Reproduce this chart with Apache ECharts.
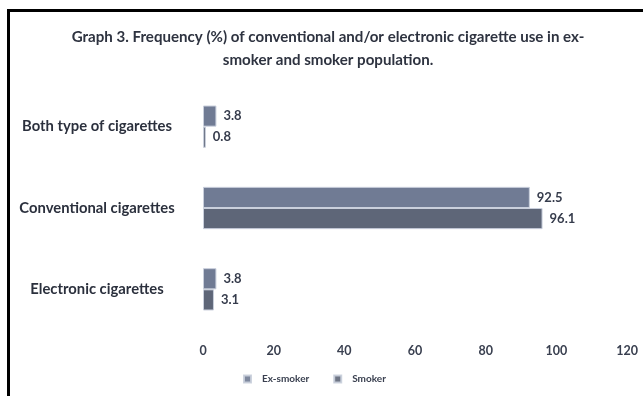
<!DOCTYPE html>
<html>
<head>
<meta charset="utf-8">
<script src="https://cdn.jsdelivr.net/npm/echarts@6/dist/echarts.min.js"></script>
<style>
  html, body { margin: 0; padding: 0; background: #fff; }
  #wrap { position: relative; width: 643px; height: 396px; overflow: hidden; }
  #chart { position: absolute; left: 0; top: 0; width: 643px; height: 396px; }
  #frame { position: absolute; left: 7px; top: 9px; width: 700px; height: 450px;
           border-top: 3px solid #000; border-left: 3px solid #000; pointer-events: none; }
</style>
</head>
<body>
<div id="wrap">
  <div id="chart"></div>
  <div id="frame"></div>
</div>
<script>
// top-to-bottom order (y axis is inverted)
const categories = ['Both type of cigarettes', 'Conventional cigarettes', 'Electronic cigarettes'];
const exSmoker = [3.8, 92.5, 3.8];
const smoker = [0.8, 96.1, 3.1];
const xTicks = [0, 20, 40, 60, 80, 100, 120];

const font = 'Lato, "Open Sans", sans-serif';
const chart = echarts.init(document.getElementById('chart'));

const labelStyle = {
  show: true,
  position: 'right',
  distance: 7,
  color: '#363c4c',
  fontFamily: font,
  fontWeight: 'bold',
  fontSize: 13
};

chart.setOption({
  animation: false,
  title: {
    text: 'Graph 3. Frequency (%) of conventional and/or electronic cigarette use in ex-\nsmoker and smoker population.',
    left: 323,
    top: 21,
    textAlign: 'center',
    textStyle: {
      fontFamily: font,
      fontSize: 15.1,
      fontWeight: 'bold',
      color: '#2e3340',
      lineHeight: 23,
      align: 'center'
    }
  },
  legend: {
    data: ['Ex-smoker', 'Smoker'],
    left: 238,
    top: 369,
    icon: 'rect',
    itemWidth: 7,
    itemHeight: 7,
    itemGap: 24,
    itemStyle: { opacity: 0.9 },
    textStyle: {
      fontFamily: font,
      fontSize: 10,
      fontWeight: 'bold',
      color: '#3a4050',
      padding: [0, 0, 0, 6]
    }
  },
  grid: {
    left: 203,
    right: 16,
    top: 86,
    bottom: 66,
    containLabel: false
  },
  xAxis: {
    type: 'value',
    min: xTicks[0],
    max: xTicks[xTicks.length - 1],
    interval: 20,
    axisLine: { show: false },
    axisTick: { show: false },
    splitLine: { show: false },
    axisLabel: {
      margin: 14,
      color: '#3a4050',
      fontFamily: font,
      fontWeight: 'bold',
      fontSize: 12.5
    }
  },
  yAxis: {
    type: 'category',
    inverse: true,
    data: categories,
    axisLine: { show: false },
    axisTick: { show: false },
    axisLabel: {
      margin: 106,
      align: 'center',
      color: '#2b303d',
      fontFamily: font,
      fontWeight: 'bold',
      fontSize: 14.8
    }
  },
  series: [
    {
      name: 'Ex-smoker',
      type: 'bar',
      data: exSmoker,
      barGap: '0%',
      barCategoryGap: '48%',
      itemStyle: { color: '#707b94', borderColor: '#c9cfdc', borderWidth: 1 },
      label: labelStyle
    },
    {
      name: 'Smoker',
      type: 'bar',
      data: smoker,
      itemStyle: { color: '#5e6678', borderColor: '#c9cfdc', borderWidth: 1 },
      label: labelStyle
    }
  ]
});
</script>
</body>
</html>
